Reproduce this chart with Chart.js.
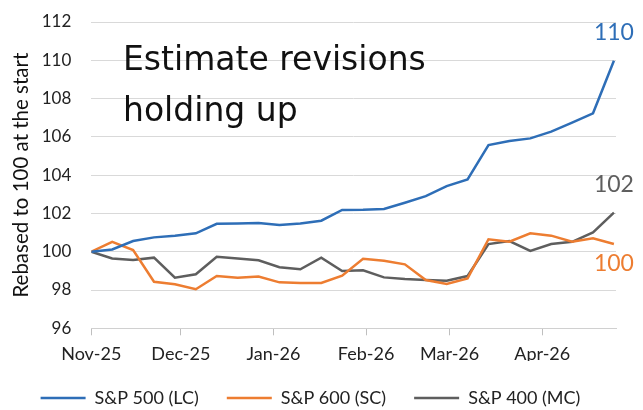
<!DOCTYPE html>
<html><head><meta charset="utf-8">
<script src="https://cdn.jsdelivr.net/npm/chart.js@4"></script>
<style>html,body{margin:0;padding:0;background:#fff}#wrap{width:643px;height:410px}</style>
</head><body><div id="wrap"><canvas id="c" width="643" height="410"></canvas></div>
<script>
// Weekly observations, x = days since 1 Nov 2025
const days = [0,7,14,21,28,35,42,49,56,63,70,77,84,91,98,105,112,119,126,133,140,147,154,161,168,175];
const monthTickDays = [0,30,61,92,120,151];
const monthTickLabels = ['Nov-25','Dec-25','Jan-26','Feb-26','Mar-26','Apr-26'];
const seriesNames = ['S&P 500 (LC)','S&P 600 (SC)','S&P 400 (MC)'];
const sp500 = [100,100.12,100.56,100.75,100.84,100.96,101.46,101.47,101.5,101.4,101.48,101.62,102.18,102.19,102.23,102.56,102.9,103.43,103.78,105.57,105.78,105.92,106.27,106.74,107.23,109.98];
const sp600 = [100,100.52,100.09,98.43,98.3,98.04,98.73,98.64,98.7,98.4,98.37,98.37,98.75,99.63,99.53,99.34,98.52,98.31,98.61,100.65,100.52,100.96,100.84,100.52,100.7,100.4];
const sp400 = [100,99.65,99.57,99.69,98.64,98.82,99.74,99.65,99.55,99.19,99.08,99.69,98.99,99.03,98.66,98.57,98.52,98.48,98.73,100.4,100.56,100.04,100.4,100.52,101.01,102.04];
const endLabels = ['110','100','102'];
const titleLines = ['Estimate revisions','holding up'];
const yTitle = 'Rebased to 100 at the start';
const yTicksMin = 96, yTicksMax = 112, yStep = 2;

const colors = ['#2E6EB7','#ED7D31','#5E5E5E'];
const FONT = 'Lato';
const toPts = vals => days.map((d,i)=>({x:d,y:vals[i]}));

const annot = {
  id:'annot',
  afterDatasetsDraw(chart){
    const ctx = chart.ctx;
    ctx.save();
    ctx.fillStyle = '#111';
    ctx.font = '33px "DejaVu Sans"';
    ctx.textAlign = 'left';
    ctx.textBaseline = 'alphabetic';
    ctx.fillText(titleLines[0], 123, 70);
    ctx.fillText(titleLines[1], 123, 121);
    ctx.font = '23px ' + FONT;
    ctx.textAlign = 'center';
    ctx.textBaseline = 'middle';
    const offs = [-28, 20, -28];
    chart.data.datasets.forEach((ds,i)=>{
      const meta = chart.getDatasetMeta(i);
      const p = meta.data[meta.data.length-1];
      ctx.fillStyle = colors[i];
      ctx.fillText(endLabels[i], p.x, p.y + offs[i]);
    });
    ctx.restore();
  }
};

new Chart(document.getElementById('c'), {
  type:'line',
  data:{
    datasets:[
      {label:seriesNames[0], data:toPts(sp500), borderColor:colors[0], backgroundColor:colors[0]},
      {label:seriesNames[1], data:toPts(sp600), borderColor:colors[1], backgroundColor:colors[1]},
      {label:seriesNames[2], data:toPts(sp400), borderColor:colors[2], backgroundColor:colors[2]}
    ].map(d=>Object.assign(d,{borderWidth:2.5, pointRadius:0, tension:0, fill:false}))
  },
  options:{
    responsive:false, animation:false, devicePixelRatio:1,
    layout:{padding:{left:5, right:27, top:22, bottom:0}},
    plugins:{
      tooltip:{enabled:false},
      legend:{
        position:'bottom', maxHeight:49,
        labels:{usePointStyle:true, pointStyle:'line', pointStyleWidth:45, padding:28,
          font:{family:FONT, size:18}, color:'#222'}
      }
    },
    scales:{
      x:{
        type:'linear', min:0, max:175.7,
        afterBuildTicks: s => { s.ticks = monthTickDays.map(v=>({value:v})); },
        afterFit: s => { s.height = 32.7; },
        ticks:{autoSkip:false, maxRotation:0, padding:8, color:'#222', font:{family:FONT, size:18},
          callback: v => monthTickLabels[monthTickDays.indexOf(v)]},
        grid:{drawOnChartArea:false, drawTicks:true, tickLength:7, color:'#BFBFBF'},
        border:{display:true, color:'#D0D0D0'}
      },
      y:{
        min:yTicksMin, max:yTicksMax,
        afterFit: s => { s.width = 86.3; s.paddingTop = 0; s.paddingBottom = 0; },
        ticks:{stepSize:yStep, padding:20, color:'#222', font:{family:FONT, size:17}},
        grid:{color:'#D9D9D9', drawTicks:false},
        border:{display:false},
        title:{display:true, text:yTitle, color:'#111', font:{family:FONT, size:20.5}}
      }
    }
  },
  plugins:[annot]
});
</script></body></html>
